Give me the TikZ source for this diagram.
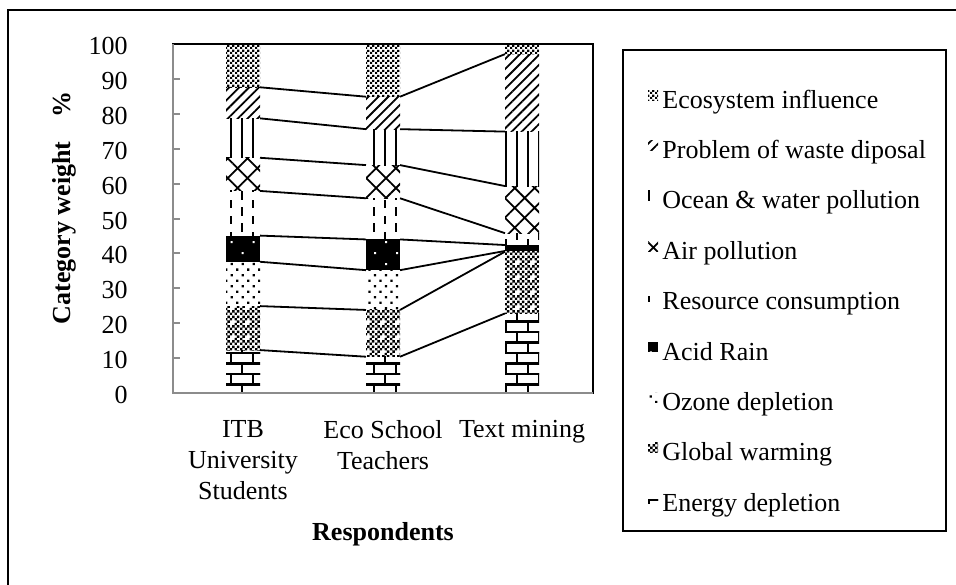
\documentclass[tikz,border=0pt]{standalone}
\usepackage{fontspec}
\setmainfont{Liberation Serif}
\usetikzlibrary{patterns,patterns.meta}

\definecolor{axisgrey}{HTML}{8C8C8C}

% small bitmap-like fills for the stacked bars
\newcommand\ckcell[2]{\pgfpathrectangle{\pgfqpoint{#1pt}{#2pt}}{\pgfqpoint{1.25pt}{1.25pt}}}
\pgfdeclarepatternformonly{fine checker}{\pgfpointorigin}{\pgfqpoint{2.5pt}{2.5pt}}{\pgfqpoint{2.5pt}{2.5pt}}{%
  \ckcell{0}{0}\ckcell{1.25}{1.25}%
  \pgfusepath{fill}}
\pgfdeclarepatternformonly{spotted checker}{\pgfpointorigin}{\pgfqpoint{7.5pt}{7.5pt}}{\pgfqpoint{7.5pt}{7.5pt}}{%
  \ckcell{0}{0}\ckcell{0}{2.5}\ckcell{0}{5}\ckcell{1.25}{1.25}\ckcell{1.25}{3.75}\ckcell{1.25}{6.25}%
  \ckcell{2.5}{0}\ckcell{2.5}{5}\ckcell{3.75}{1.25}\ckcell{3.75}{6.25}%
  \ckcell{5}{0}\ckcell{5}{2.5}\ckcell{5}{5}\ckcell{6.25}{1.25}\ckcell{6.25}{3.75}\ckcell{6.25}{6.25}%
  \pgfusepath{fill}}
\pgfdeclarepatternformonly{tile bricks}{\pgfqpoint{-1pt}{-1pt}}{\pgfqpoint{12pt}{11.5pt}}{\pgfqpoint{11pt}{10.5pt}}{%
  \pgfsetlinewidth{1.3pt}%
  \pgfpathmoveto{\pgfqpoint{-1pt}{0pt}}\pgfpathlineto{\pgfqpoint{12pt}{0pt}}%
  \pgfpathmoveto{\pgfqpoint{-1pt}{5.25pt}}\pgfpathlineto{\pgfqpoint{12pt}{5.25pt}}%
  \pgfpathmoveto{\pgfqpoint{-1pt}{10.5pt}}\pgfpathlineto{\pgfqpoint{12pt}{10.5pt}}%
  \pgfpathmoveto{\pgfqpoint{0pt}{0pt}}\pgfpathlineto{\pgfqpoint{0pt}{5.25pt}}%
  \pgfpathmoveto{\pgfqpoint{11pt}{0pt}}\pgfpathlineto{\pgfqpoint{11pt}{5.25pt}}%
  \pgfpathmoveto{\pgfqpoint{5.5pt}{5.25pt}}\pgfpathlineto{\pgfqpoint{5.5pt}{10.5pt}}%
  \pgfusepath{stroke}}
\pgfdeclarepatternformonly{tile dashes}{\pgfqpoint{-1pt}{0pt}}{\pgfqpoint{12pt}{8pt}}{\pgfqpoint{11pt}{8pt}}{%
  \pgfsetlinewidth{1pt}%
  \pgfpathmoveto{\pgfqpoint{0pt}{0pt}}\pgfpathlineto{\pgfqpoint{0pt}{4.5pt}}%
  \pgfpathmoveto{\pgfqpoint{11pt}{0pt}}\pgfpathlineto{\pgfqpoint{11pt}{4.5pt}}%
  \pgfpathmoveto{\pgfqpoint{5.5pt}{4pt}}\pgfpathlineto{\pgfqpoint{5.5pt}{8pt}}%
  \pgfusepath{stroke}}

\tikzset{
  lab/.style={font=\fontsize{13}{15.5}\selectfont, inner sep=0pt},
  axtitle/.style={lab, font=\fontsize{13}{15.5}\selectfont\bfseries},
  outerframe/.style={draw=black, line width=1pt},
  plotframe/.style={draw=black, line width=0.8pt},
  legframe/.style={draw=black, line width=0.8pt},
  axis/.style={draw=axisgrey, line width=1pt},
  serline/.style={draw=black, line width=0.9pt},
  % one style per category, bottom of the stack first
  seg1/.style={pattern=tile bricks},
  seg2/.style={pattern=spotted checker},
  seg3/.style={pattern={Dots[angle=45,distance=3.9pt,radius=0.8pt]}},
  seg4/.style={fill=black, postaction={pattern={Dots[angle=45,distance=7.8pt,radius=0.7pt]}, pattern color=white}},
  seg5/.style={pattern=tile dashes},
  seg6/.style={pattern={Hatch[angle=45,distance=7pt,line width=0.9pt]}},
  seg7/.style={pattern={Lines[angle=90,distance=5.5pt,line width=1pt]}},
  seg8/.style={pattern={Lines[angle=45,distance=3.5pt,line width=0.9pt]}},
  seg9/.style={pattern=fine checker},
}

\begin{document}
\begin{tikzpicture}[x=0.5pt, y=-0.5pt]
  \useasboundingbox (0,0) rectangle (956,584);
  \draw[outerframe] (8,600) |- (970,10);

  % plot area, 0..100 upwards
  \begin{scope}[shift={(173,393)}, y=1.745pt]
    \foreach \bar/\xl/\tops in {itb/53/{12.3,24.9,37.6,45.1,57.9,67.4,78.7,87.6,100},
                                eco/193/{10.4,23.8,35.2,44.0,55.8,65.3,75.6,84.9,100},
                                tm/332/{22.8,40.5,40.7,42.4,45.8,59.3,74.9,97.1,100}} {
      \foreach \t [count=\i, remember=\t as \b (initially 0)] in \tops {
        \path[seg\i] (\xl,\b) rectangle (\xl+34,\t);
        \coordinate (\bar-\i-l) at (\xl,\t);
        \coordinate (\bar-\i-r) at (\xl+34,\t);
      }
    }
    % series lines between the bars
    \foreach \i in {1,...,8} {
      \draw[serline] (itb-\i-r) -- (eco-\i-l);
      \draw[serline] (eco-\i-r) -- (tm-\i-l);
    }
    \draw[plotframe] (0,0) rectangle (420,100);
    \draw[axis] (0,100) -- (0,0) -- (420,0);
    \foreach \v in {10,20,...,90}
      \draw[axis] (0,\v) -- (7,\v);
    \foreach \v in {0,10,...,100}
      \node[lab, anchor=east, yshift=-1pt] (tick-\v) at (-45,\v) {\v};
  \end{scope}

  \node[lab, anchor=north, align=center] (grp-itb) at (243,420) {ITB\\University\\Students};
  \node[lab, anchor=north, align=center] (grp-eco) at (383,420) {Eco School\\Teachers};
  \node[lab, anchor=north] (grp-tm) at (522,420) {Text mining};
  \node[axtitle] (xtitle) at (383,534) {Respondents};
  \node[axtitle, rotate=90] (ytitle) at (64,208) {Category weight\hspace{0.9em}\%};

  % legend
  \draw[legframe] (623,50) rectangle (946,531);
  \foreach \i/\txt [count=\k from 0] in {9/Ecosystem influence, 8/Problem of waste diposal,
      7/Ocean \& water pollution, 6/Air pollution, 5/Resource consumption, 4/Acid Rain,
      3/Ozone depletion, 2/Global warming, 1/Energy depletion} {
    \pgfmathsetmacro\base{108+50.4*\k}
    \path[seg\i] (648,\base-18) rectangle (658,\base-8);
    \node[lab, anchor=base west] (key-\i) at (662,\base) {\txt};
  }
\end{tikzpicture}
\end{document}
